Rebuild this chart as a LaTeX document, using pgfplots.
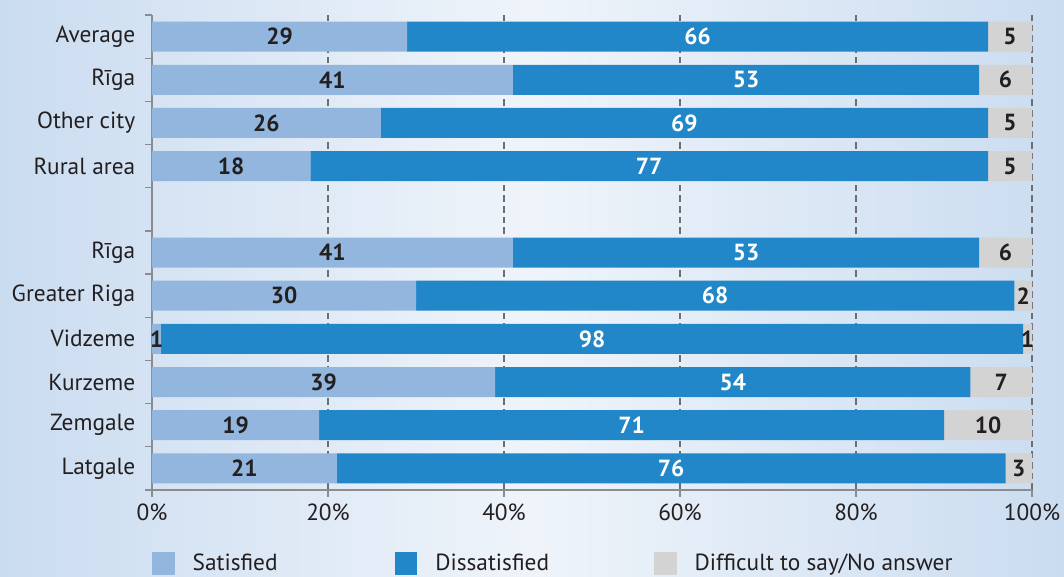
\documentclass[border=0pt]{standalone}
\usepackage{pgfplots}
\pgfplotsset{compat=1.18}
\usepackage{pgfplotstable}
\usepackage{fontspec}
\setmainfont{PT Sans}
\definecolor{sat}{HTML}{93B6DE}
\definecolor{dis}{HTML}{2287C8}
\definecolor{dk}{HTML}{D3D3D3}
\definecolor{txt}{HTML}{231F20}
\definecolor{axg}{HTML}{8A8C8F}
\definecolor{grd}{HTML}{6D6E71}
\definecolor{bgE}{HTML}{CADCF0}
\definecolor{bgM}{HTML}{EFF4FA}

\pgfplotstableread{
pos sat dis dk
10 29 66 5
9 41 53 6
8 26 69 5
7 18 77 5
5 41 53 6
4 30 68 2
3 1 98 1
2 39 54 7
1 19 71 10
0 21 76 3
}\data

\begin{document}
\begin{tikzpicture}
\shade[left color=bgE, right color=bgE, middle color=bgM] (-114pt,-64.5pt) rectangle (684pt,367.5pt);
\pgfplotsset{common/.style={width=660pt,height=356.25pt,scale only axis,
  xmin=0,xmax=100,ymin=-0.5,ymax=10.5, at={(0,0)}, anchor=south west}}
\begin{axis}[common,
  xbar stacked, bar width=22.5pt,
  axis lines*=left,
  axis line style={axg, line width=1.1pt},
  font=\fontsize{17.5}{20}\selectfont\color{txt},
  tick align=outside,
  major tick length=5pt,
  minor tick length=5pt,
  xtick={0,20,40,60,80,100},
  xticklabels={0\%,20\%,40\%,60\%,80\%,100\%},
  xtick style={axg, line width=1pt},
  xmajorgrids,
  grid style={grd, dashed, line width=0.9pt, dash pattern=on 5pt off 3pt},
  ytick={0,1,2,3,4,5,7,8,9,10},
  yticklabels={Latgale,Zemgale,Kurzeme,Vidzeme,Greater Riga,Rīga,Rural area,Other city,Rīga,Average},
  major y tick style={draw=none},
  minor ytick={-0.5,0.5,1.5,2.5,3.5,4.5,5.5,6.5,7.5,8.5,9.5,10.5},
  minor y tick style={axg, line width=1pt},
  yticklabel style={xshift=-4pt},
  xticklabel style={yshift=-2pt},
  legend style={at={(0,0)}, anchor=west, xshift=0pt, yshift=-55pt,
    draw=none, fill=none, inner sep=0pt, outer sep=0pt,
    nodes={inner sep=0pt, font=\fontsize{17.5}{20}\selectfont\color{txt}},
    /tikz/every odd column/.append style={column sep=13.5pt}},
  legend columns=3,
  legend image code/.code={\fill[#1] (0pt,-8.5pt) rectangle (17pt,8.5pt);},
]
\addplot[fill=sat, draw=none] table[x=sat,y=pos]{\data};
\addplot[fill=dis, draw=none] table[x=dis,y=pos]{\data};
\addplot[fill=dk, draw=none] table[x=dk,y=pos]{\data};
\legend{\makebox[151.5pt][l]{Satisfied},\makebox[164pt][l]{Dissatisfied},Difficult to say/No answer}
\end{axis}
\begin{axis}[common, hide axis,
  /pgf/number format/assume math mode=true,
  nodes near coords,
  every node near coord/.append style={anchor=center, font=\fontsize{17.5}{20}\selectfont\bfseries},
]
\addplot[draw=none, mark=none, nodes near coords, point meta=explicit,
  every node near coord/.append style={text=txt}]
  table[x expr=\thisrow{sat}/2, y=pos, meta=sat]{\data};
\addplot[draw=none, mark=none, nodes near coords, point meta=explicit,
  every node near coord/.append style={text=white}]
  table[x expr=\thisrow{sat}+\thisrow{dis}/2, y=pos, meta=dis]{\data};
\addplot[draw=none, mark=none, nodes near coords, point meta=explicit,
  every node near coord/.append style={text=txt}]
  table[x expr=\thisrow{sat}+\thisrow{dis}+\thisrow{dk}/2, y=pos, meta=dk]{\data};
\end{axis}
\pgfresetboundingbox
\path[use as bounding box] (-114pt,-64.5pt) rectangle (684pt,367.5pt);
\end{tikzpicture}
\end{document}
